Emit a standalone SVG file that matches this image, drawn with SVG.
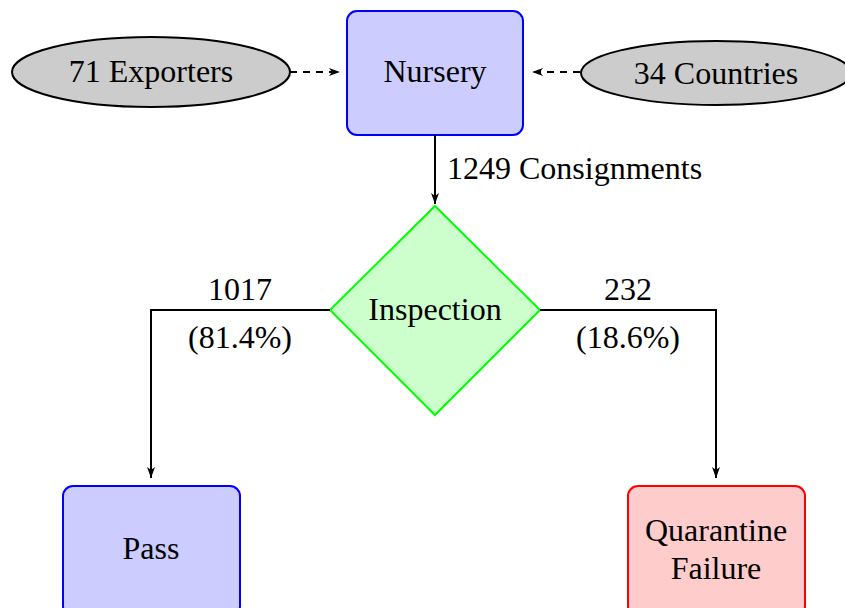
<svg xmlns="http://www.w3.org/2000/svg" width="845" height="608" viewBox="0 0 845 608">
<style>
text{font-family:"Liberation Serif","Times New Roman",serif;font-size:32px;fill:#000;text-anchor:middle}
.box{stroke-width:2}
.blue{fill:#ccccff;stroke:#0000ff}
.red{fill:#ffcccc;stroke:#ff0000}
.grey{fill:#cccccc;stroke:#000;stroke-width:2}
.edge{fill:none;stroke:#000;stroke-width:2}
.dash{stroke-dasharray:7,6}
</style>
<defs>
<marker id="ah" viewBox="0 0 11 10" refX="11" refY="5" markerWidth="11" markerHeight="10" markerUnits="userSpaceOnUse" orient="auto">
<path d="M0,1 L11,5 L0,9 L3,5 Z" fill="#000"/>
</marker>
</defs>
<g id="exporters"><ellipse class="grey" cx="151" cy="72" rx="139" ry="35"/><text x="151" y="82">71 Exporters</text></g>
<g id="countries"><ellipse class="grey" cx="716" cy="73" rx="135" ry="32"/><text x="716" y="84">34 Countries</text></g>
<g id="nursery"><rect class="box blue" x="347" y="11" width="176" height="124" rx="10"/><text x="435" y="82">Nursery</text></g>
<g id="inspection"><polygon points="435,206 540,310 435,415 330,310" fill="#ccffcc" stroke="#00ff00" stroke-width="2"/><text x="435" y="320">Inspection</text></g>
<g id="pass"><rect class="box blue" x="63" y="486" width="177" height="130" rx="10"/><text x="151" y="559">Pass</text></g>
<g id="quarantine"><rect class="box red" x="628" y="486" width="177" height="130" rx="10"/><text x="716" y="541">Quarantine</text><text x="716" y="579">Failure</text></g>
<g id="connectors">
<line class="edge dash" x1="290" y1="72" x2="340" y2="72" marker-end="url(#ah)"/>
<line class="edge dash" x1="580" y1="72" x2="532" y2="72" marker-end="url(#ah)"/>
<line class="edge" x1="435" y1="135" x2="435" y2="204" marker-end="url(#ah)"/>
<polyline class="edge" points="330,310 151,310 151,478" marker-end="url(#ah)"/>
<polyline class="edge" points="540,310 716,310 716,478" marker-end="url(#ah)"/>
<text x="447" y="179" style="text-anchor:start">1249 Consignments</text>
<text x="240" y="300">1017</text>
<text x="240" y="348">(81.4%)</text>
<text x="628" y="300">232</text>
<text x="628" y="348">(18.6%)</text>
</g>
</svg>
